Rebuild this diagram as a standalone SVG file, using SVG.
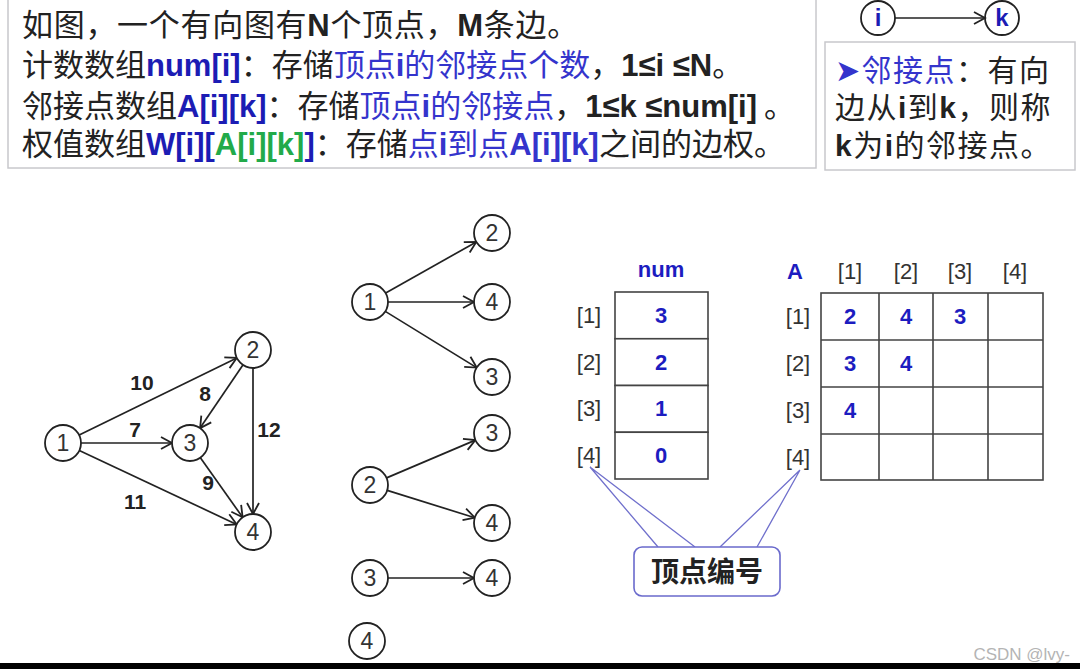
<svg xmlns="http://www.w3.org/2000/svg" width="1080" height="669" viewBox="0 0 1080 669">
<defs>
<marker id="arr" markerUnits="userSpaceOnUse" markerWidth="16" markerHeight="16" refX="12" refY="7" orient="auto">
<path d="M1,1 L12,7 L1,13" fill="none" stroke="#222" stroke-width="1.8"/>
</marker>
<style>
.cj{font-family:"Noto Sans CJK SC","Liberation Sans",sans-serif;fill:#222}
.b{font-family:"Liberation Sans","Noto Sans CJK SC",sans-serif;font-weight:bold}
.bl{fill:#1c1cb4}
.lb{fill:#3434cc}
.gr{fill:#22aa4a}
.box{fill:#fff;stroke:#c8c8cc;stroke-width:1.5}
.nd{fill:#fff;stroke:#222;stroke-width:1.8}
.nt{font-family:"Liberation Sans",sans-serif;font-size:23px;fill:#333;text-anchor:middle}
.edge{stroke:#222;stroke-width:1.7;fill:none;marker-end:url(#arr)}
.wl{font-family:"Liberation Sans",sans-serif;font-weight:bold;font-size:21px;fill:#222;text-anchor:middle}
.cell{fill:#fff;stroke:#444;stroke-width:1.6}
.idx{font-family:"Liberation Sans",sans-serif;font-size:22px;fill:#333;text-anchor:middle}
.val{font-family:"Liberation Sans",sans-serif;font-weight:bold;font-size:22px;fill:#1c1cc0;text-anchor:middle}
.call{stroke:#7070cc;stroke-width:1.3;fill:none}
</style>
</defs>
<rect width="1080" height="669" fill="#fff"/>

<g id="defbox">
<rect class="box" x="8" y="-2" width="808" height="170"/>
<text class="cj" x="22" y="36" font-size="31" letter-spacing="0.7">如图，一个有向图有<tspan class="b">N</tspan>个顶点，<tspan class="b">M</tspan>条边。</text>
<text class="cj" x="22" y="76" font-size="31">计数数组<tspan class="b bl">num[i]</tspan>：存储<tspan class="lb">顶点<tspan class="b">i</tspan>的邻接点个数</tspan>，<tspan class="b">1≤i ≤N</tspan>。</text>
<text class="cj" x="22" y="117" font-size="31">邻接点数组<tspan class="b bl">A[i][k]</tspan>：存储<tspan class="lb">顶点<tspan class="b">i</tspan>的邻接点</tspan>，<tspan class="b">1≤k ≤num[i]</tspan> 。</text>
<text class="cj" x="22" y="155" font-size="31">权值数组<tspan class="b bl">W[i][</tspan><tspan class="b gr">A[i][k]</tspan><tspan class="b bl">]</tspan>：存储<tspan class="lb">点<tspan class="b">i</tspan>到点<tspan class="b">A[i][k]</tspan></tspan>之间的边权。</text>
</g>

<g id="ik">
<circle class="nd" cx="878" cy="18" r="17"/>
<circle class="nd" cx="1002" cy="18" r="17"/>
<text class="b bl" x="878" y="26" font-size="24" text-anchor="middle">i</text>
<text class="b bl" x="1002" y="26" font-size="24" text-anchor="middle">k</text>
<line class="edge" x1="895" y1="18" x2="985" y2="18"/>
</g>

<g id="adjbox">
<rect class="box" x="825" y="42" width="250" height="128"/>
<text class="cj" x="835" y="81" font-size="30" letter-spacing="1.5"><tspan class="lb">➤邻接点</tspan>：有向</text>
<text class="cj" x="835" y="118" font-size="30" letter-spacing="1.5">边从<tspan class="b">i</tspan>到<tspan class="b">k</tspan>，则称</text>
<text class="cj" x="835" y="156" font-size="30" letter-spacing="1.5"><tspan class="b">k</tspan>为<tspan class="b">i</tspan>的邻接点。</text>
</g>

<g id="connectors">
<line class="edge" x1="79.2" y1="435.1" x2="236.8" y2="357.9"/>
<line class="edge" x1="81" y1="443" x2="172" y2="443"/>
<line class="edge" x1="79.3" y1="450.6" x2="236.7" y2="524.4"/>
<line class="edge" x1="242.9" y1="364.9" x2="200.1" y2="428.1"/>
<line class="edge" x1="253" y1="368" x2="253" y2="514"/>
<line class="edge" x1="200.4" y1="457.7" x2="242.6" y2="517.3"/>
<line class="edge" x1="385.7" y1="293.1" x2="476.3" y2="241.9"/>
<line class="edge" x1="388" y1="302" x2="474" y2="302"/>
<line class="edge" x1="385.3" y1="311.4" x2="476.7" y2="367.6"/>
<line class="edge" x1="386.6" y1="477.9" x2="475.4" y2="440.1"/>
<line class="edge" x1="387.2" y1="490.4" x2="474.8" y2="517.7"/>
<line class="edge" x1="388" y1="578" x2="474" y2="578"/>
</g>

<g id="weights">
<text class="wl" x="142" y="390">10</text>
<text class="wl" x="205" y="401">8</text>
<text class="wl" x="135" y="437">7</text>
<text class="wl" x="269" y="437">12</text>
<text class="wl" x="208" y="490">9</text>
<text class="wl" x="135" y="509">11</text>
</g>

<g id="g-n1"><circle class="nd" cx="63" cy="443" r="18"/><text class="nt" x="63" y="451">1</text></g>
<g id="g-n2"><circle class="nd" cx="253" cy="350" r="18"/><text class="nt" x="253" y="358">2</text></g>
<g id="g-n3"><circle class="nd" cx="190" cy="443" r="18"/><text class="nt" x="190" y="451">3</text></g>
<g id="g-n4"><circle class="nd" cx="253" cy="532" r="18"/><text class="nt" x="253" y="540">4</text></g>

<g id="m-1"><circle class="nd" cx="370" cy="302" r="18"/><text class="nt" x="370" y="310">1</text></g>
<g id="m-1-2"><circle class="nd" cx="492" cy="233" r="18"/><text class="nt" x="492" y="241">2</text></g>
<g id="m-1-4"><circle class="nd" cx="492" cy="302" r="18"/><text class="nt" x="492" y="310">4</text></g>
<g id="m-1-3"><circle class="nd" cx="492" cy="377" r="18"/><text class="nt" x="492" y="385">3</text></g>
<g id="m-2"><circle class="nd" cx="370" cy="485" r="18"/><text class="nt" x="370" y="493">2</text></g>
<g id="m-2-3"><circle class="nd" cx="492" cy="433" r="18"/><text class="nt" x="492" y="441">3</text></g>
<g id="m-2-4"><circle class="nd" cx="492" cy="523" r="18"/><text class="nt" x="492" y="531">4</text></g>
<g id="m-3"><circle class="nd" cx="370" cy="578" r="18"/><text class="nt" x="370" y="586">3</text></g>
<g id="m-3-4"><circle class="nd" cx="492" cy="578" r="18"/><text class="nt" x="492" y="586">4</text></g>
<g id="m-4"><circle class="nd" cx="367" cy="641" r="18"/><text class="nt" x="367" y="649">4</text></g>

<g id="num-table">
<text class="val" x="661" y="277">num</text>
<rect class="cell" x="615" y="292" width="93" height="46.75"/>
<rect class="cell" x="615" y="338.75" width="93" height="46.75"/>
<rect class="cell" x="615" y="385.5" width="93" height="46.75"/>
<rect class="cell" x="615" y="432.25" width="93" height="46.75"/>
<text class="idx" x="589" y="323">[1]</text>
<text class="idx" x="589" y="370">[2]</text>
<text class="idx" x="589" y="416">[3]</text>
<text class="idx" x="589" y="463">[4]</text>
<text class="val" x="661" y="323">3</text>
<text class="val" x="661" y="370">2</text>
<text class="val" x="661" y="416">1</text>
<text class="val" x="661" y="463">0</text>
</g>

<g id="A-table">
<text class="val" x="795" y="279">A</text>
<text class="idx" x="850" y="279">[1]</text>
<text class="idx" x="906" y="279">[2]</text>
<text class="idx" x="960" y="279">[3]</text>
<text class="idx" x="1015" y="279">[4]</text>
<rect class="cell" x="821" y="293" width="222" height="187" fill="none"/>
<path d="M879,293V480M933,293V480M988,293V480M821,340H1043M821,387H1043M821,434H1043" stroke="#444" stroke-width="1.6" fill="none"/>
<text class="idx" x="798" y="324">[1]</text>
<text class="idx" x="798" y="371">[2]</text>
<text class="idx" x="798" y="418">[3]</text>
<text class="idx" x="798" y="465">[4]</text>
<text class="val" x="850" y="324">2</text>
<text class="val" x="906" y="324">4</text>
<text class="val" x="960" y="324">3</text>
<text class="val" x="850" y="371">3</text>
<text class="val" x="906" y="371">4</text>
<text class="val" x="850" y="418">4</text>
</g>

<g id="callout">
<path class="call" d="M590,467L658,547M590,467L695,547M800,470L720,547M800,470L757,547"/>
<rect x="634" y="547" width="146" height="49" rx="8" fill="#fff" stroke="#6a6acc" stroke-width="1.6"/>
<text class="cj" x="707" y="582" font-size="28" font-weight="bold" text-anchor="middle">顶点编号</text>
</g>

<text x="1070" y="660" font-family="Liberation Sans,sans-serif" font-size="17" fill="#b4b4b4" text-anchor="end">CSDN @lvy-</text>
<rect x="0" y="663" width="1080" height="6" fill="#000"/>
</svg>
